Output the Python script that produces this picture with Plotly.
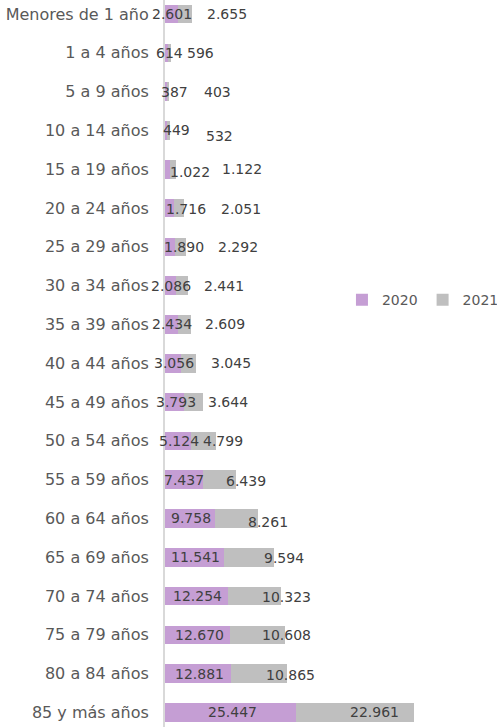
import plotly.graph_objects as go

categories = ["Menores de 1 año", "1 a 4 años", "5 a 9 años", "10 a 14 años", "15 a 19 años",
              "20 a 24 años", "25 a 29 años", "30 a 34 años", "35 a 39 años", "40 a 44 años",
              "45 a 49 años", "50 a 54 años", "55 a 59 años", "60 a 64 años", "65 a 69 años",
              "70 a 74 años", "75 a 79 años", "80 a 84 años", "85 y más años"]
v2020 = [2601, 614, 387, 449, 1022, 1716, 1890, 2086, 2434, 3056, 3793, 5124, 7437, 9758,
         11541, 12254, 12670, 12881, 25447]
v2021 = [2655, 596, 403, 532, 1122, 2051, 2292, 2441, 2609, 3045, 3644, 4799, 6439, 8261,
         9594, 10323, 10608, 10865, 22961]

# label placement tweaks (pixels), as in the original manually-placed labels
shift2020 = [0, 3, 9, 10, 22, 17, 14, 1, 1, 1, 1, 1, 0, 1, 1, 1, 2, 1, 2]
shift2021 = [42, 31, 49, 51, 69, 62, 57, 42, 41, 42, 34, 19, 26, 32, 35, 32, 29, 31, 20]
yshift2020 = [0, 0, 0, 0, -3, -1, 0, 0, 0, 0, 0, 0, 0, 0, 0, 0, 0, 0, 0]
yshift2021 = [0, 0, 0, -6, 0, -1, 0, 0, 0, 0, 0, 0, -1, -4, -1, -1, 0, -1, 0]

def fmt(v):
    return f"{v:,}".replace(",", ".")

C2020 = "#c59ed4"
C2021 = "#bfbfbf"
FONT = "DejaVu Sans"

fig = go.Figure()
fig.add_trace(go.Bar(y=categories, x=v2020, name="2020", orientation="h",
                     marker=dict(color=C2020, line=dict(width=0))))
fig.add_trace(go.Bar(y=categories, x=v2021, name="2021", orientation="h",
                     marker=dict(color=C2021, line=dict(width=0))))

annotations = []
for i, c in enumerate(categories):
    annotations.append(dict(x=v2020[i] / 2, y=c, text=fmt(v2020[i]), showarrow=False,
                            xshift=shift2020[i], yshift=yshift2020[i],
                            font=dict(family=FONT, size=14, color="#404040")))
    annotations.append(dict(x=v2020[i] + v2021[i] / 2, y=c, text=fmt(v2021[i]), showarrow=False,
                            xshift=shift2021[i], yshift=yshift2021[i],
                            font=dict(family=FONT, size=14, color="#404040")))

fig.update_layout(
    width=497, height=727,
    margin=dict(l=165, r=0, t=0, b=0, autoexpand=False),
    barmode="stack",
    bargap=0.52,
    plot_bgcolor="white", paper_bgcolor="white",
    font=dict(family=FONT, size=14, color="#595959"),
    xaxis=dict(range=[0, 64600], visible=False, showgrid=False, zeroline=False,
               automargin=False),
    yaxis=dict(categoryorder="array", categoryarray=categories, automargin=False,
               range=[18.376, -0.361], showline=True, linecolor="#d9d9d9", linewidth=2,
               showgrid=False, zeroline=False, ticks="", ticklabelstandoff=11,
               tickfont=dict(family=FONT, size=16, color="#595959")),
    legend=dict(orientation="h", x=0.533, y=0.587, xanchor="left", yanchor="middle",
                traceorder="normal",
                font=dict(family=FONT, size=14, color="#595959"),
                bgcolor="rgba(0,0,0,0)", itemwidth=30, tracegroupgap=0),
    annotations=annotations,
)

fig.write_html("out.html", config={"displayModeBar": False},
               post_script="document.body.style.margin='0';document.body.style.padding='0';")
